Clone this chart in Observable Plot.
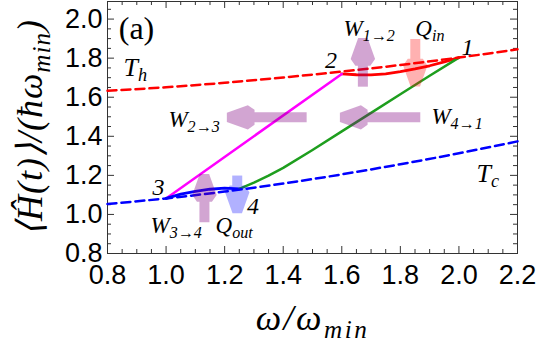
<!DOCTYPE html>
<html>
<head>
<meta charset="utf-8">
<script src="https://cdn.jsdelivr.net/npm/d3@7"></script>
<script src="https://cdn.jsdelivr.net/npm/@observablehq/plot@0.6"></script>
<style>
  html, body { margin: 0; padding: 0; background: #fff; }
  #chart svg { display: block; }
</style>
</head>
<body>
<div id="chart"></div>
<script>
// Axes
const xDomain = [0.8, 2.2];
const yDomain = [0.8, 2.09];
const xTicks = [0.8, 1.0, 1.2, 1.4, 1.6, 1.8, 2.0, 2.2];
const yTicks = [0.8, 1.0, 1.2, 1.4, 1.6, 1.8, 2.0];
const xTitle = "ω/ω_{min}";
const yTitle = "⟨Ĥ(t)⟩/(ħω_{min})";

// Thermal reference curves (energy vs frequency)
const isoOmega = [0.8, 1.0, 1.2, 1.4, 1.6, 1.8, 2.0, 2.2];
const isoHot = [1.633, 1.651, 1.674, 1.701, 1.731, 1.765, 1.803, 1.845];
const isoCold = [1.053, 1.082, 1.117, 1.158, 1.205, 1.257, 1.313, 1.374];

// Cycle strokes 1→2, 2→3, 3→4, 4→1
const omega12 = [2.0, 1.95, 1.9, 1.85, 1.8, 1.75, 1.7, 1.65, 1.6];
const energy12 = [1.803, 1.781, 1.761, 1.745, 1.731, 1.72, 1.714, 1.715, 1.719];
const omega23 = [1.6, 1.0];
const energy23 = [1.719, 1.082];
const omega34 = [1.0, 1.05, 1.1, 1.15, 1.2, 1.25];
const energy34 = [1.082, 1.104, 1.118, 1.129, 1.135, 1.131];
const omega41 = [1.25, 1.3, 1.35, 1.4, 1.5, 1.6, 1.7, 1.8, 1.9, 2.0];
const energy41 = [1.131, 1.163, 1.199, 1.238, 1.33, 1.425, 1.52, 1.615, 1.71, 1.803];

// Work and heat arrows: tail and shaft end (the head extends past the shaft end)
const arrowFromOmega = [1.672, 1.851, 1.868, 1.480, 1.131, 1.243];
const arrowFromEnergy = [1.654, 1.898, 1.497, 1.497, 0.960, 1.199];
const arrowToOmega = [1.672, 1.851, 1.671, 1.285, 1.131, 1.243];
const arrowToEnergy = [1.787, 1.771, 1.497, 1.497, 1.091, 1.122];
const arrowColor = ["#800080", "#ff0000", "#800080", "#800080", "#800080", "#0000ff"];
const arrowOpacity = [0.35, 0.3, 0.35, 0.35, 0.35, 0.3];

// Annotations
const flowText = ["W_{2→3}", "W_{1→2}", "Q_{in}", "W_{4→1}", "W_{3→4}", "Q_{out}"];
const flowOmega = [1.008, 1.606, 1.851, 1.906, 0.947, 1.169];
const flowEnergy = [1.485, 1.95, 1.95, 1.50, 0.941, 0.943];
const bathText = ["T_{h}", "T_{c}"];
const bathOmega = [0.855, 2.06];
const bathEnergy = [1.753, 1.21];
const cornerText = ["1", "2", "3", "4"];
const cornerOmega = [2.029, 1.563, 0.974, 1.297];
const cornerEnergy = [1.855, 1.787, 1.14, 1.043];
const panelText = "(a)";
const panelOmega = 0.899;
const panelEnergy = 1.95;

const rows = (xs, ys, extra) => xs.map((x, i) => ({x, y: ys[i], ...(extra ? {t: extra[i]} : {})}));
const near = (a, b) => Math.abs(a - b) < 1e-6;
const xMinor = d3.range(0.8, 2.2001, 0.05).filter(v => !xTicks.some(t => near(t, v)));
const yMinor = d3.range(0.8, 2.0901, 0.05).filter(v => !yTicks.some(t => near(t, v)));

const axisColor = "#333";
const serif = "Liberation Serif";
const sans = "Liberation Sans";
const majorLen = 7, minorLen = 4;

// Filled block arrowhead placed at the end of a thick link
const ns = "http://www.w3.org/2000/svg";
function blockHead(color, context) {
  const doc = (context && context.document) || document;
  const m = doc.createElementNS(ns, "marker");
  m.setAttribute("viewBox", "0 -8 21 16");
  m.setAttribute("markerWidth", 21);
  m.setAttribute("markerHeight", 16);
  m.setAttribute("markerUnits", "userSpaceOnUse");
  m.setAttribute("refX", 0);
  m.setAttribute("refY", 0);
  m.setAttribute("orient", "auto");
  m.setAttribute("overflow", "visible");
  const p = doc.createElementNS(ns, "path");
  p.setAttribute("d", "M0,-7.5L21,0L0,7.5Z");
  p.setAttribute("fill", color);
  m.appendChild(p);
  return m;
}

function tickRules(values, len, side) {
  if (side === "bottom") return Plot.ruleX(values, {x: d => d, y1: yDomain[0], y2: yDomain[0], insetBottom: len, stroke: axisColor});
  if (side === "top") return Plot.ruleX(values, {x: d => d, y1: yDomain[1], y2: yDomain[1], insetTop: len, stroke: axisColor});
  if (side === "left") return Plot.ruleY(values, {y: d => d, x1: xDomain[0], x2: xDomain[0], insetLeft: len, stroke: axisColor});
  return Plot.ruleY(values, {y: d => d, x1: xDomain[1], x2: xDomain[1], insetRight: len, stroke: axisColor});
}

const arrowMarks = arrowColor.map((c, i) =>
  Plot.link([i], {
    x1: () => arrowFromOmega[i], y1: () => arrowFromEnergy[i],
    x2: () => arrowToOmega[i], y2: () => arrowToEnergy[i],
    stroke: c, strokeWidth: 10, strokeLinecap: "butt",
    opacity: arrowOpacity[i], markerEnd: blockHead
  })
);

const plot = Plot.plot({
  width: 538,
  height: 348,
  marginLeft: 107,
  marginRight: 21,
  marginTop: 1,
  marginBottom: 95,
  x: {domain: xDomain},
  y: {domain: yDomain},
  style: {fontFamily: sans, fontSize: "27px", color: "black", background: "white"},
  marks: [
    ...["bottom", "top", "left", "right"].flatMap(side => {
      const horiz = side === "bottom" || side === "top";
      return [tickRules(horiz ? xTicks : yTicks, majorLen, side), tickRules(horiz ? xMinor : yMinor, minorLen, side)];
    }),
    Plot.frame({stroke: axisColor, strokeWidth: 1}),
    Plot.axisX({ticks: xTicks, tickSize: 0, tickPadding: 11, tickFormat: d => d.toFixed(1), label: null, fontSize: 27, fontFamily: sans}),
    Plot.axisY({ticks: yTicks, tickSize: 0, tickPadding: 5, tickFormat: d => d.toFixed(1), label: null, fontSize: 27, fontFamily: sans}),

    // cycle strokes
    Plot.line(rows(omega12, energy12), {x: "x", y: "y", stroke: "#ff0000", strokeWidth: 2.8}),
    Plot.line(rows(omega23, energy23), {x: "x", y: "y", stroke: "#ff00ff", strokeWidth: 2.5}),
    Plot.line(rows(omega34, energy34), {x: "x", y: "y", stroke: "#0000ff", strokeWidth: 2.8}),
    Plot.line(rows(omega41, energy41), {x: "x", y: "y", stroke: "#1e9e1e", strokeWidth: 2.5}),

    // hot and cold isotherms
    Plot.line(rows(isoOmega, isoHot), {x: "x", y: "y", stroke: "#ff0000", strokeWidth: 2.5, strokeDasharray: "9,5", curve: "natural"}),
    Plot.line(rows(isoOmega, isoCold), {x: "x", y: "y", stroke: "#0000ff", strokeWidth: 2.5, strokeDasharray: "9,5", curve: "natural"}),

    ...arrowMarks,

    Plot.text(rows(flowOmega, flowEnergy, flowText), {x: "x", y: "y", text: "t", textAnchor: "start", fontFamily: serif, fontStyle: "italic", fontSize: 23}),
    Plot.text(rows(bathOmega, bathEnergy, bathText), {x: "x", y: "y", text: "t", textAnchor: "start", fontFamily: serif, fontStyle: "italic", fontSize: 26}),
    Plot.text(rows(cornerOmega, cornerEnergy, cornerText), {x: "x", y: "y", text: "t", fontFamily: serif, fontStyle: "italic", fontSize: 24}),
    Plot.text([panelText], {x: () => panelOmega, y: () => panelEnergy, text: d => d, fontFamily: serif, fontSize: 32}),

    Plot.text([xTitle], {frameAnchor: "bottom", textAnchor: "middle", lineAnchor: "middle", dy: 65, text: d => d, fontFamily: serif, fontStyle: "italic", fontSize: 36}),
    Plot.text([yTitle], {frameAnchor: "left", textAnchor: "middle", lineAnchor: "middle", rotate: -90, dx: -77, text: d => d, fontFamily: serif, fontStyle: "italic", fontSize: 36})
  ]
});

// Axis titles are set a little wider, like math typesetting
function spaceTitles(svg) {
  svg.querySelectorAll("text").forEach(t => {
    if (t.textContent === xTitle) t.style.letterSpacing = "2.5px";
    if (t.textContent === yTitle) t.style.letterSpacing = "1px";
  });
}

// Turn "X_{sub}" into a base run and a lowered, smaller run
function setSubscripts(svg) {
  svg.querySelectorAll("text").forEach(t => {
    const s = t.textContent;
    if (!s.includes("_{")) return;
    const parts = s.split(/_\{([^}]*)\}/);
    t.textContent = "";
    let lowered = false;
    parts.forEach((p, i) => {
      if (!p) return;
      const ts = document.createElementNS(ns, "tspan");
      ts.textContent = p;
      if (i % 2) {
        ts.setAttribute("font-size", "70%");
        ts.setAttribute("dy", "0.3em");
        lowered = true;
      } else if (lowered) {
        ts.setAttribute("dy", "-0.21em");
        lowered = false;
      }
      t.appendChild(ts);
    });
  });
}
spaceTitles(plot);
setSubscripts(plot);
document.getElementById("chart").appendChild(plot);
</script>
</body>
</html>
